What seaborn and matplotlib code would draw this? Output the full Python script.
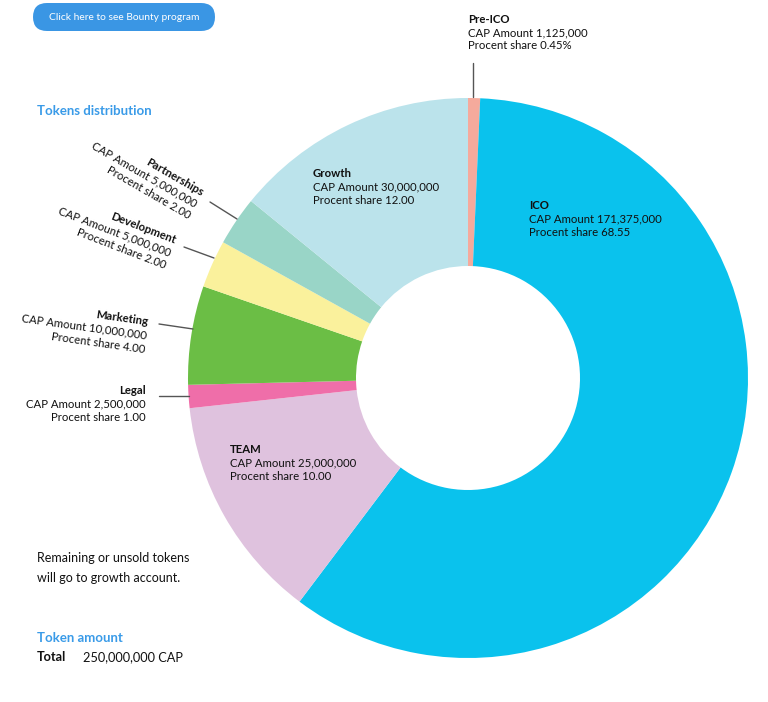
import numpy as np
import matplotlib
matplotlib.use("Agg")
import matplotlib.pyplot as plt
from matplotlib.patches import FancyBboxPatch
import seaborn as sns

# data
labels = ["Pre-ICO", "ICO", "TEAM", "Legal", "Marketing", "Development", "Partnerships", "Growth"]
cap_amounts = [1125000, 171375000, 25000000, 2500000, 10000000, 5000000, 5000000, 30000000]
shares = [0.45, 68.55, 10.00, 1.00, 4.00, 2.00, 2.00, 12.00]
# the ring in the picture is not drawn to scale; wedge spans measured in degrees
wedge_deg = [2.5, 214.5, 46.8, 4.8, 20.5, 9.9, 10.2, 50.8]
colors = ["#f5aa9c", "#0ac2ed", "#dfc2de", "#ef6ea9", "#6bbe45", "#faf19c", "#99d5c7", "#bbe3eb"]
total_cap = 250000000

sns.set_theme(style="white")
plt.rcParams["font.family"] = ["Lato", "DejaVu Sans"]

W, H = 768, 702
fig = plt.figure(figsize=(W / 100, H / 100), dpi=100)
ax = fig.add_axes([0, 0, 1, 1])

ax.pie(wedge_deg, colors=colors, startangle=90, counterclock=False,
       center=(468, H - 378), radius=280,
       wedgeprops=dict(width=168, linewidth=0))
ax.set_xlim(0, W)
ax.set_ylim(0, H)
ax.set_aspect("equal")
ax.axis("off")

TXT = "#111111"
BLUE = "#3a9be8"


def block(x, y, lines, rot=0, ha="left", dy=13.5, size=8.2):
    # x, y: first baseline in pixel coords (y down); rot: clockwise degrees
    th = np.radians(rot)
    for i, (s, bold) in enumerate(lines):
        px = x - i * dy * np.sin(th)
        py = y + i * dy * np.cos(th)
        ax.text(px, H - py, s, rotation=-rot, rotation_mode="anchor",
                ha=ha, va="baseline", fontsize=size, color=TXT,
                fontweight="bold" if bold else "normal")


def label_lines(i):
    share = f"{shares[i]:.2f}" if i else f"{shares[i]}%"
    return [(labels[i], True),
            (f"CAP Amount {cap_amounts[i]:,}", False),
            (f"Procent share {share}", False)]


# label placement: (x, y, rotation, ha, spacing)
layout = [
    (468, 23, 0, "left", 13),
    (529, 209, 0, "left", 13.5),
    (230, 453, 0, "left", 13.5),
    (146, 394, 0, "right", 13.5),
    (148, 325, 8, "right", 14),
    (174, 244, 21, "right", 13.5),
    (201, 196, 30, "right", 13.5),
    (313, 177, 0, "left", 13.5),
]
for i, (x, y, r, ha, dy) in enumerate(layout):
    block(x, y, label_lines(i), rot=r, ha=ha, dy=dy)

# leader lines
leaders = [((473, 63), (473, 97)), ((210, 202), (237, 219)), ((184, 247), (214, 258)),
           ((159, 324), (193, 329)), ((159, 396), (189, 396))]
for (x0, y0), (x1, y1) in leaders:
    ax.plot([x0, x1], [H - y0, H - y1], color="#555555", lw=1)

# button
ax.add_patch(FancyBboxPatch((33, H - 31), 182, 28,
                            boxstyle="round,pad=0,rounding_size=14",
                            fc="#3a96e4", ec="none"))
ax.text(124, H - 17, "Click here to see Bounty program", ha="center", va="center",
        fontsize=7.4, color="white")

ax.text(37, H - 115, "Tokens distribution", fontsize=9.5, fontweight="bold", color=BLUE)
ax.text(37, H - 562, "Remaining or unsold tokens", fontsize=9, color=TXT)
ax.text(37, H - 582, "will go to growth account.", fontsize=9, color=TXT)
ax.text(37, H - 642, "Token amount", fontsize=9.5, fontweight="bold", color=BLUE)
ax.text(37, H - 661, "Total", fontsize=9.2, fontweight="bold", color=TXT)
ax.text(83, H - 661, f"{total_cap:,} CAP", fontsize=9.2, color=TXT)

fig.savefig("out.png", dpi=100)
